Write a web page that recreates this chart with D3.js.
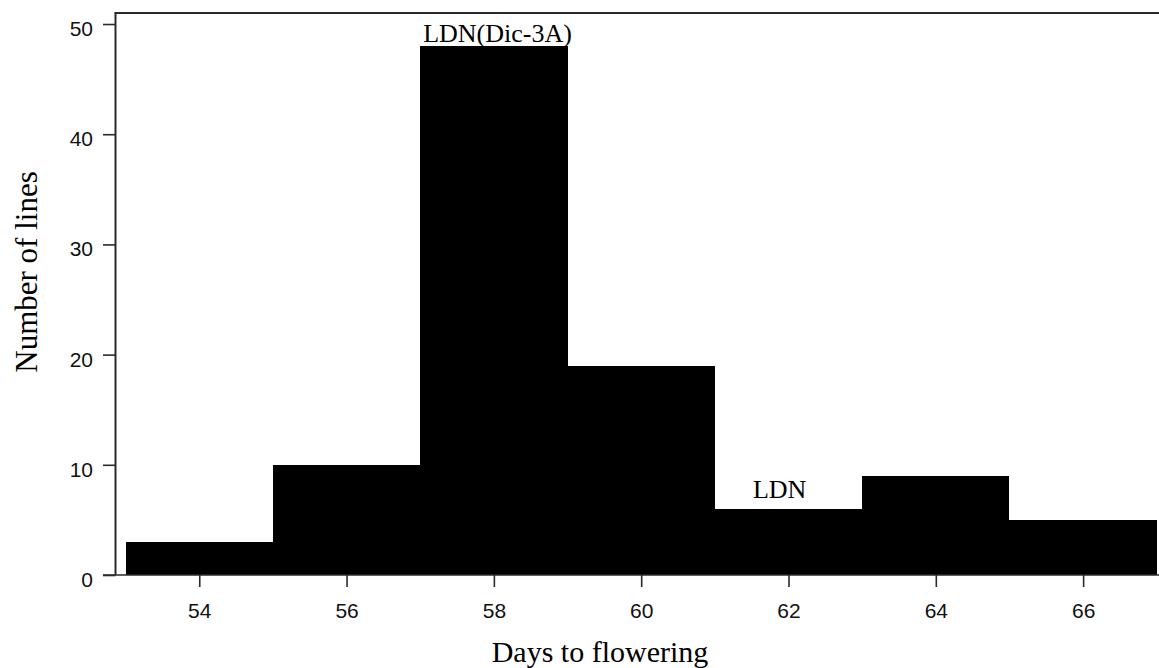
<!DOCTYPE html>
<html>
<head>
<meta charset="utf-8">
<script src="https://cdn.jsdelivr.net/npm/d3@7"></script>
<style>
  html, body { margin: 0; padding: 0; background: #fff; }
  svg { display: block; }
</style>
</head>
<body>
<svg id="chart" width="1159" height="668"></svg>
<script>
// Histogram bins: lower edge, upper edge and count of lines per bin
const binStart = [53, 55, 57, 59, 61, 63, 65];
const binEnd   = [55, 57, 59, 61, 63, 65, 67];
const counts   = [3, 10, 48, 19, 6, 9, 5];

const xTicks = [54, 56, 58, 60, 62, 64, 66];
const yTicks = [0, 10, 20, 30, 40, 50];

// Annotations placed in data coordinates
const noteText = ["LDN(Dic-3A)", "LDN"];
const noteX    = [58.05, 61.88];
const noteY    = [48.41, 7];

const svg = d3.select("#chart");

const x = d3.scaleLinear().domain([52.863, 67.03]).range([115.5, 1159]);
const y = d3.scaleLinear().domain([0, 51]).range([575, 13]);

const axisColor = "#2a2a2a";

// bars (adjacent bins share edges, so render crisply to avoid seams)
svg.append("g")
  .attr("shape-rendering", "crispEdges")
  .selectAll("rect")
  .data(counts)
  .join("rect")
  .attr("x", (d, i) => Math.round(x(binStart[i])))
  .attr("width", (d, i) => Math.round(x(binEnd[i])) - Math.round(x(binStart[i])))
  .attr("y", d => Math.round(y(d)))
  .attr("height", d => Math.round(y(0)) - Math.round(y(d)))
  .attr("fill", "#000");

// y axis
const yAxis = svg.append("g")
  .attr("transform", `translate(${x.range()[0]},0)`)
  .call(d3.axisLeft(y).tickValues(yTicks).tickSize(12.5).tickPadding(10).tickSizeOuter(0));
yAxis.select(".domain").remove();
yAxis.selectAll(".tick line").attr("stroke", axisColor).attr("stroke-width", 1.6);
yAxis.selectAll(".tick text")
  .attr("dy", "0.55em")
  .attr("fill", "#111")
  .style("font-family", "'Liberation Sans', Arial, sans-serif")
  .style("font-size", "21px");

// x axis
const xAxis = svg.append("g")
  .attr("transform", `translate(0,${y(0)})`)
  .call(d3.axisBottom(x).tickValues(xTicks).tickSize(12).tickPadding(16).tickSizeOuter(0));
xAxis.select(".domain").remove();
xAxis.selectAll(".tick line").attr("stroke", axisColor).attr("stroke-width", 1.6);
xAxis.selectAll(".tick text")
  .attr("fill", "#111")
  .style("font-family", "'Liberation Sans', Arial, sans-serif")
  .style("font-size", "21px");

// frame lines: left axis, baseline, top border
svg.append("line")
  .attr("x1", x.range()[0]).attr("x2", x.range()[0])
  .attr("y1", y.range()[1]).attr("y2", y(0))
  .attr("stroke", axisColor).attr("stroke-width", 2);
svg.append("line")
  .attr("x1", 103).attr("x2", x.range()[1])
  .attr("y1", y(0)).attr("y2", y(0))
  .attr("stroke", axisColor).attr("stroke-width", 1.6);
svg.append("line")
  .attr("x1", x.range()[0] - 1).attr("x2", x.range()[1])
  .attr("y1", y.range()[1]).attr("y2", y.range()[1])
  .attr("stroke", axisColor).attr("stroke-width", 2);

// annotations
svg.append("g")
  .selectAll("text")
  .data(noteText)
  .join("text")
  .attr("x", (d, i) => x(noteX[i]))
  .attr("y", (d, i) => y(noteY[i]))
  .attr("text-anchor", "middle")
  .style("font-family", "'Liberation Serif', 'Times New Roman', serif")
  .style("font-size", "26px")
  .attr("fill", "#000")
  .text(d => d);

// axis titles
svg.append("text")
  .attr("x", 600)
  .attr("y", 662)
  .attr("text-anchor", "middle")
  .style("font-family", "'Liberation Serif', 'Times New Roman', serif")
  .style("font-size", "30px")
  .attr("fill", "#000")
  .text("Days to flowering");

svg.append("text")
  .attr("transform", "translate(37,272) rotate(-90)")
  .attr("text-anchor", "middle")
  .style("font-family", "'Liberation Serif', 'Times New Roman', serif")
  .style("font-size", "31px")
  .attr("fill", "#000")
  .text("Number of lines");
</script>
</body>
</html>
